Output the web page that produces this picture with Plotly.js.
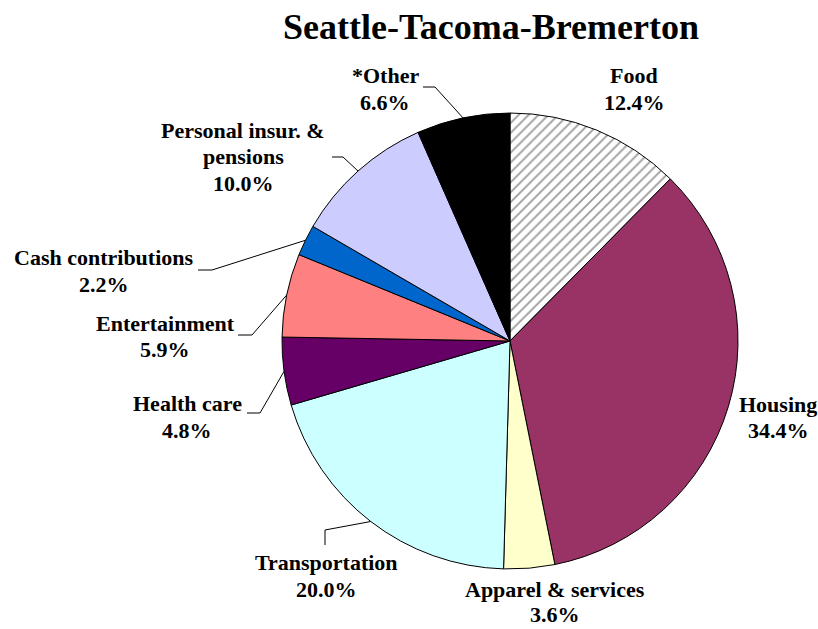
<!DOCTYPE html>
<html>
<head>
<meta charset="utf-8">
<script src="https://cdn.plot.ly/plotly-3.0.1.min.js"></script>
<style>html,body{margin:0;padding:0;background:#fff;}#chart{width:818px;height:629px;}</style>
</head>
<body>
<div id="chart"></div>
<script>
// ---- data ----
const categories = ['Food', 'Housing', 'Apparel & services', 'Transportation', 'Health care',
  'Entertainment', 'Cash contributions', 'Personal insur. &<br>pensions', '*Other'];
const shares = [12.4, 34.4, 3.6, 20.0, 4.8, 5.9, 2.2, 10.0, 6.6];
const chartTitle = 'Seattle-Tacoma-Bremerton';

// ---- styles / layout (pixels) ----
const W = 818, H = 629;
const sliceColors = ['#FFFFFF', '#993366', '#FFFFCC', '#CCFFFF', '#660066', '#FF8080', '#0066CC', '#CCCCFF', '#000000'];
const slicePatterns = ['/', '', '', '', '', '', '', '', ''];
const cx = 510, cy = 341, R = 228;
// center of first text line for each label, and line gap per label
const labelPos = [[634, 75], [778, 404], [555, 589], [326, 562], [187, 403], [165, 323], [104, 257], [243, 130], [385, 75]];
const lineGaps = [27, 26, 25, 27, 27, 27, 27, 27, 27];
// leader elbows: [elbow, end] or null
const leaders = [null, null, null,
  [[325, 530], [325, 545]],
  [[260, 413], [247, 413]],
  [[252, 335], [238, 335]],
  [[212, 270], [198, 270]],
  [[343, 157], [332, 157]],
  [[435, 87], [423, 87]]];
const serif = '"Liberation Serif", "Times New Roman", serif';

const px = x => x / W;
const py = y => 1 - y / H;

const total = shares.reduce((a, b) => a + b, 0);
const annotations = [];
const shapes = [];
let cum = 0;
shares.forEach((v, i) => {
  const mid = (cum + v / 2) / total * 2 * Math.PI;
  cum += v;
  const lines = categories[i].split('<br>').concat([v.toFixed(1) + '%']);
  lines.forEach((t, k) => {
    annotations.push({
      text: '<b>' + t + '</b>', xref: 'paper', yref: 'paper',
      x: px(labelPos[i][0]), y: py(labelPos[i][1] + k * lineGaps[i]),
      xanchor: 'center', yanchor: 'middle', showarrow: false,
      font: {family: serif, size: 22, color: '#000'}
    });
  });
  if (leaders[i]) {
    const ex = cx + R * Math.sin(mid), ey = cy - R * Math.cos(mid);
    const [e1, e2] = leaders[i];
    shapes.push({
      type: 'path', xref: 'paper', yref: 'paper',
      path: `M ${px(ex)} ${py(ey)} L ${px(e1[0])} ${py(e1[1])} L ${px(e2[0])} ${py(e2[1])}`,
      line: {color: '#000', width: 1}
    });
  }
});

const trace = {
  type: 'pie',
  labels: categories,
  values: shares,
  sort: false,
  direction: 'clockwise',
  rotation: 0,
  textinfo: 'none',
  hoverinfo: 'none',
  showlegend: false,
  domain: {x: [px(cx - R), px(cx + R)], y: [py(cy + R), py(cy - R)]},
  marker: {
    colors: sliceColors,
    line: {color: '#000', width: 1},
    pattern: {shape: slicePatterns, fgcolor: '#9a9a9a', size: 7, solidity: 0.25}
  }
};

const layout = {
  width: W, height: H,
  margin: {l: 0, r: 0, t: 0, b: 0},
  paper_bgcolor: '#fff',
  plot_bgcolor: '#fff',
  font: {family: serif, color: '#000'},
  title: {
    text: '<b>' + chartTitle + '</b>', x: px(491), xanchor: 'center', y: py(26), yanchor: 'middle',
    font: {family: serif, size: 36, color: '#000'}
  },
  annotations: annotations,
  shapes: shapes
};

Plotly.newPlot('chart', [trace], layout, {displayModeBar: false, staticPlot: true});
</script>
</body>
</html>
